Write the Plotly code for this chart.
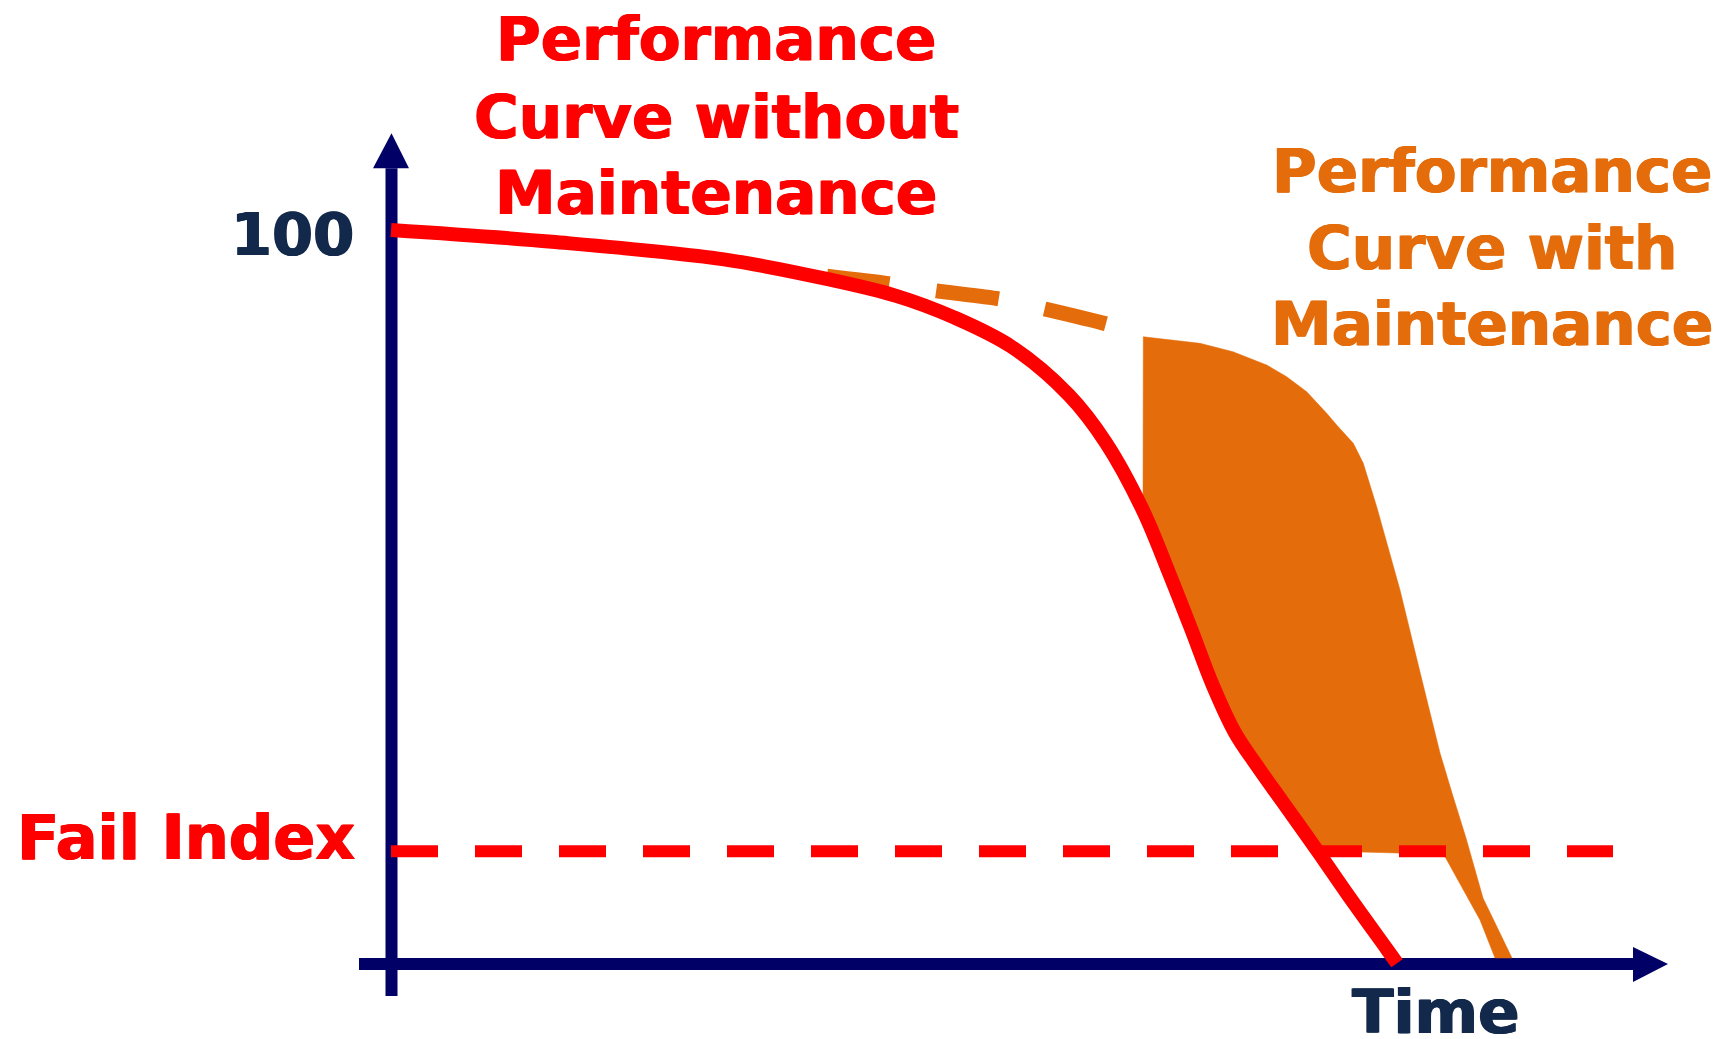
import plotly.graph_objects as go

# ---------------- data (time units, performance units) ----------------
# Performance curve without maintenance
time_no_maint = [0, 16.1, 33.3, 43.7, 50.6, 56.3, 62.05, 67.8, 71.5, 75.2, 77.8, 80.0,
                 82.2, 84.4, 86.6, 89.1, 92.6, 95.7, 99.6, 100.6]
perf_no_maint = [100, 98.4, 96.0, 93.3, 91.0, 88.1, 84.1, 77.5, 71.0, 61.8, 53.3, 45.7,
                 37.9, 31.5, 27.0, 22.2, 15.5, 9.4, 2.0, 0.1]

# Performance curve with maintenance (dashed part)
time_maint_dash = [43.6, 49.7, 54.6, 60.9, 65.5, 71.8, 75.2]
perf_maint_dash = [93.7, 92.7, 91.7, 90.6, 89.2, 87.1, 85.5]

# Maintenance gain area outline
time_maint_area = [75.23, 77.57, 80.9, 84.2, 87.57, 89.57, 91.57, 93.57, 94.57, 96.23, 97.23,
                   98.57, 99.23, 100.9, 102.9, 104.9, 106.1, 107.5, 109.2, 112.1,
                   110.4, 108.9, 105.4,
                   100.6, 96.9, 92.6,
                   89.1, 86.6, 84.4, 82.2, 80.0, 77.8, 75.2, 75.23]
perf_maint_area = [85.46, 85.11, 84.56, 83.42, 81.61, 80.01, 77.97, 75.03, 73.43, 70.94, 68.21,
                   62.30, 59.13, 50.95, 39.78, 28.75, 23.3, 17.17, 8.99, 0.82,
                   0.82, 5.99, 14.62,
                   15.12, 15.26, 15.67,
                   22.2, 27.0, 31.5, 37.9, 45.7, 53.3, 61.8, 85.46]

# Fail index threshold
fail_index = 15.35
time_fail = [0, 122.2]

# Axes (decorations)
x_axis_t = [-3.2, 124.2]
x_axis_p = [0, 0]
x_head_t = [124.2, 127.7, 124.2, 124.2]
x_head_p = [2.32, 0.0, -2.45, 2.32]
y_axis_t = [0.05, 0.05]
y_axis_p = [-4.36, 108.4]
y_head_t = [-1.8, 0.05, 1.8, -1.8]
y_head_p = [108.4, 113.2, 108.4, 108.4]

RED = "#FF0000"
ORANGE = "#E46C0A"
NAVY = "#000066"
DARK = "#13294B"
W, H = 1729, 1039

fig = go.Figure()

# axes
fig.add_trace(go.Scatter(x=x_axis_t, y=x_axis_p, mode="lines",
                         line=dict(color=NAVY, width=12), hoverinfo="skip"))
fig.add_trace(go.Scatter(x=x_head_t, y=x_head_p, mode="lines", fill="toself",
                         fillcolor=NAVY, line=dict(color=NAVY, width=0), hoverinfo="skip"))
fig.add_trace(go.Scatter(x=y_axis_t, y=y_axis_p, mode="lines",
                         line=dict(color=NAVY, width=12), hoverinfo="skip"))
fig.add_trace(go.Scatter(x=y_head_t, y=y_head_p, mode="lines", fill="toself",
                         fillcolor=NAVY, line=dict(color=NAVY, width=0), hoverinfo="skip"))

# maintenance area
fig.add_trace(go.Scatter(x=time_maint_area, y=perf_maint_area, mode="lines", fill="toself",
                         fillcolor=ORANGE, line=dict(color=ORANGE, width=0.5), hoverinfo="skip"))
# maintenance dashed curve
fig.add_trace(go.Scatter(x=time_maint_dash, y=perf_maint_dash, mode="lines",
                         line=dict(color=ORANGE, width=15, dash="63px,47px",
                                   shape="spline", smoothing=0.6), hoverinfo="skip"))
# fail index
fig.add_trace(go.Scatter(x=time_fail, y=[fail_index] * len(time_fail), mode="lines",
                         line=dict(color=RED, width=12, dash="47px,37px"), hoverinfo="skip"))
# curve without maintenance
fig.add_trace(go.Scatter(x=time_no_maint, y=perf_no_maint, mode="lines",
                         line=dict(color=RED, width=14, shape="spline", smoothing=1.0),
                         hoverinfo="skip"))

FONT = "DejaVu Sans"


def label(text, cx, cy, color, size):
    fig.add_annotation(text=text, x=cx / W, y=1 - cy / H, xref="paper", yref="paper",
                       xanchor="center", yanchor="middle", showarrow=False,
                       font=dict(family=FONT, size=size, color=color, weight="bold",
                                 shadow=f"0.8px 0 0 {color}, -0.8px 0 0 {color}"))


for txt, cy in [("Performance", 60), ("Curve without", 137), ("Maintenance", 213)]:
    label(txt, 716, cy - 21, RED, 61)
for txt, cy in [("Performance", 192), ("Curve with", 268), ("Maintenance", 345)]:
    label(txt, 1492, cy - 21, ORANGE, 61)
label("Fail Index", 186, 858 - 21, RED, 62)
label("100", 292, 255 - 21, DARK, 59)
label("Time", 1435, 1032 - 21, DARK, 61)

fig.update_layout(
    width=W, height=H,
    margin=dict(l=0, r=0, t=0, b=0),
    paper_bgcolor="white", plot_bgcolor="white",
    showlegend=False,
    xaxis=dict(range=[-39.1, 133.8], visible=False, fixedrange=True),
    yaxis=dict(range=[-10.22, 131.34], visible=False, fixedrange=True),
)

fig.write_html("out.html", config={"displayModeBar": False},
               post_script="document.body.style.margin='0';document.body.style.overflow='hidden';")
